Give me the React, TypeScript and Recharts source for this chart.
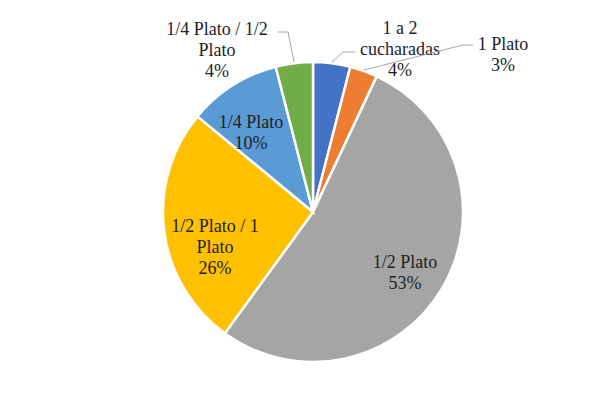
import React from 'react';
import { PieChart, Pie, Cell } from 'recharts';

const categories = [
  '1 a 2 cucharadas',
  '1 Plato',
  '1/2 Plato',
  '1/2 Plato / 1 Plato',
  '1/4 Plato',
  '1/4 Plato / 1/2 Plato',
];
const percentages = [4, 3, 53, 26, 10, 4];
const colors = ['#4472C4', '#ED7D31', '#A5A5A5', '#FFC000', '#5B9BD5', '#70AD47'];

const data = categories.map((name, i) => ({ name, value: percentages[i] }));

const FONT = '"Liberation Serif", "Times New Roman", serif';
const FONT_SIZE = 18;
const LINE_H = 21;
const RAD = Math.PI / 180;

// label block centres and leader elbows, relative to the pie centre
const LABEL_LAYOUT: { dx: number; dy: number; leader?: [number, number][] }[] = [
  { dx: 87, dy: -163, leader: [[30, -160], [42, -160]] },
  { dx: 190, dy: -158, leader: [[150, -167], [160, -167]] },
  { dx: 92, dy: 60 },
  { dx: -98, dy: 35 },
  { dx: -62, dy: -80 },
  { dx: -96, dy: -162, leader: [[-25, -180], [-35, -180]] },
];

let ctx: CanvasRenderingContext2D | null = null;
const textWidth = (s: string) => {
  if (!ctx) ctx = document.createElement('canvas').getContext('2d');
  if (!ctx) return s.length * FONT_SIZE * 0.45;
  ctx.font = `${FONT_SIZE}px ${FONT}`;
  return ctx.measureText(s).width;
};

const wrap = (text: string, maxW = 110) => {
  const words = text.split(' ');
  const lines: string[] = [];
  let cur = '';
  words.forEach((w) => {
    const next = cur ? `${cur} ${w}` : w;
    if (cur && textWidth(next) > maxW) {
      lines.push(cur);
      cur = w;
    } else {
      cur = next;
    }
  });
  if (cur) lines.push(cur);
  return lines;
};

const renderLabel = (props: any) => {
  const { cx, cy, midAngle, outerRadius, index, name, value } = props;
  const layout = LABEL_LAYOUT[index];
  const lines = [...wrap(name), `${value}%`];
  const x = cx + layout.dx;
  const top = cy + layout.dy - ((lines.length - 1) * LINE_H) / 2;

  let leader = null;
  if (layout.leader) {
    const sx = cx + (outerRadius + 1) * Math.cos(-midAngle * RAD);
    const sy = cy + (outerRadius + 1) * Math.sin(-midAngle * RAD);
    const pts = [[sx, sy], ...layout.leader.map(([px, py]) => [cx + px, cy + py])];
    leader = (
      <polyline
        points={pts.map((p) => p.join(',')).join(' ')}
        fill="none"
        stroke="#A6A6A6"
        strokeWidth={1}
      />
    );
  }

  return (
    <g key={`lbl-${index}`}>
      {/* the chart frame rides along with the first label, it runs off the right and bottom edges */}
      {index === 0 && <path d="M6 414 V5 H614" fill="none" stroke="#D0D0D0" strokeWidth={2} />}
      {leader}
      {lines.map((ln, i) => (
        <text
          key={i}
          x={x}
          y={top + i * LINE_H}
          textAnchor="middle"
          dominantBaseline="central"
          fontFamily={FONT}
          fontSize={FONT_SIZE}
          fill="#1e1e1e"
        >
          {ln}
        </text>
      ))}
    </g>
  );
};

export default function App() {
  return (
    <div style={{ width: 614, height: 414, margin: -8, background: '#fff' }}>
      <PieChart width={614} height={414} margin={{ top: 0, right: 0, bottom: 0, left: 0 }}>
        <Pie
          data={data}
          dataKey="value"
          nameKey="name"
          cx={313}
          cy={212}
          outerRadius={150}
          startAngle={90}
          endAngle={-270}
          stroke="#fff"
          strokeWidth={2.5}
          label={renderLabel}
          labelLine={false}
          isAnimationActive={false}
        >
          {data.map((d, i) => (
            <Cell key={d.name} fill={colors[i]} />
          ))}
        </Pie>
      </PieChart>
    </div>
  );
}
